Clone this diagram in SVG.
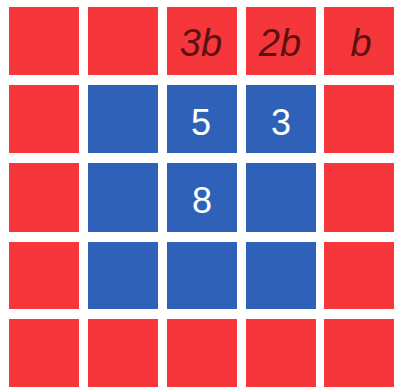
<svg xmlns="http://www.w3.org/2000/svg" width="395" height="390" viewBox="0 0 395 390">
  <style>
    .r { fill: #f5373b; }
    .b { fill: #2f61b8; }
    .lr { font-family: "Liberation Sans", Arial, sans-serif; font-style: italic; font-size: 38px; fill: #5e1010; text-anchor: middle; }
    .lb { font-family: "Liberation Sans", Arial, sans-serif; font-size: 36px; fill: #ffffff; text-anchor: middle; }
  </style>
  <rect width="395" height="390" fill="#ffffff"/>
  <g id="row1">
    <g id="c11"><rect class="r" x="9" y="7" width="70" height="68"/></g>
    <g id="c12"><rect class="r" x="88" y="7" width="70" height="68"/></g>
    <g id="c13"><rect class="r" x="167" y="7" width="70" height="68"/><text class="lr" x="201" y="56">3b</text></g>
    <g id="c14"><rect class="r" x="246" y="7" width="70" height="68"/><text class="lr" x="280" y="56">2b</text></g>
    <g id="c15"><rect class="r" x="324" y="7" width="70" height="68"/><text class="lr" x="361" y="56">b</text></g>
  </g>
  <g id="row2">
    <g id="c21"><rect class="r" x="9" y="85" width="70" height="68"/></g>
    <g id="c22"><rect class="b" x="88" y="85" width="70" height="68"/></g>
    <g id="c23"><rect class="b" x="167" y="85" width="70" height="68"/><text class="lb" x="201" y="135">5</text></g>
    <g id="c24"><rect class="b" x="246" y="85" width="70" height="68"/><text class="lb" x="281" y="135">3</text></g>
    <g id="c25"><rect class="r" x="324" y="85" width="70" height="68"/></g>
  </g>
  <g id="row3">
    <g id="c31"><rect class="r" x="9" y="163" width="70" height="69"/></g>
    <g id="c32"><rect class="b" x="88" y="163" width="70" height="69"/></g>
    <g id="c33"><rect class="b" x="167" y="163" width="70" height="69"/><text class="lb" x="202" y="213">8</text></g>
    <g id="c34"><rect class="b" x="246" y="163" width="70" height="69"/></g>
    <g id="c35"><rect class="r" x="324" y="163" width="70" height="69"/></g>
  </g>
  <g id="row4">
    <g id="c41"><rect class="r" x="9" y="242" width="70" height="67"/></g>
    <g id="c42"><rect class="b" x="88" y="242" width="70" height="67"/></g>
    <g id="c43"><rect class="b" x="167" y="242" width="70" height="67"/></g>
    <g id="c44"><rect class="b" x="246" y="242" width="70" height="67"/></g>
    <g id="c45"><rect class="r" x="324" y="242" width="70" height="67"/></g>
  </g>
  <g id="row5">
    <g id="c51"><rect class="r" x="9" y="319" width="70" height="68"/></g>
    <g id="c52"><rect class="r" x="88" y="319" width="70" height="68"/></g>
    <g id="c53"><rect class="r" x="167" y="319" width="70" height="68"/></g>
    <g id="c54"><rect class="r" x="246" y="319" width="70" height="68"/></g>
    <g id="c55"><rect class="r" x="324" y="319" width="70" height="68"/></g>
  </g>
  <g id="connectors"/>
</svg>
